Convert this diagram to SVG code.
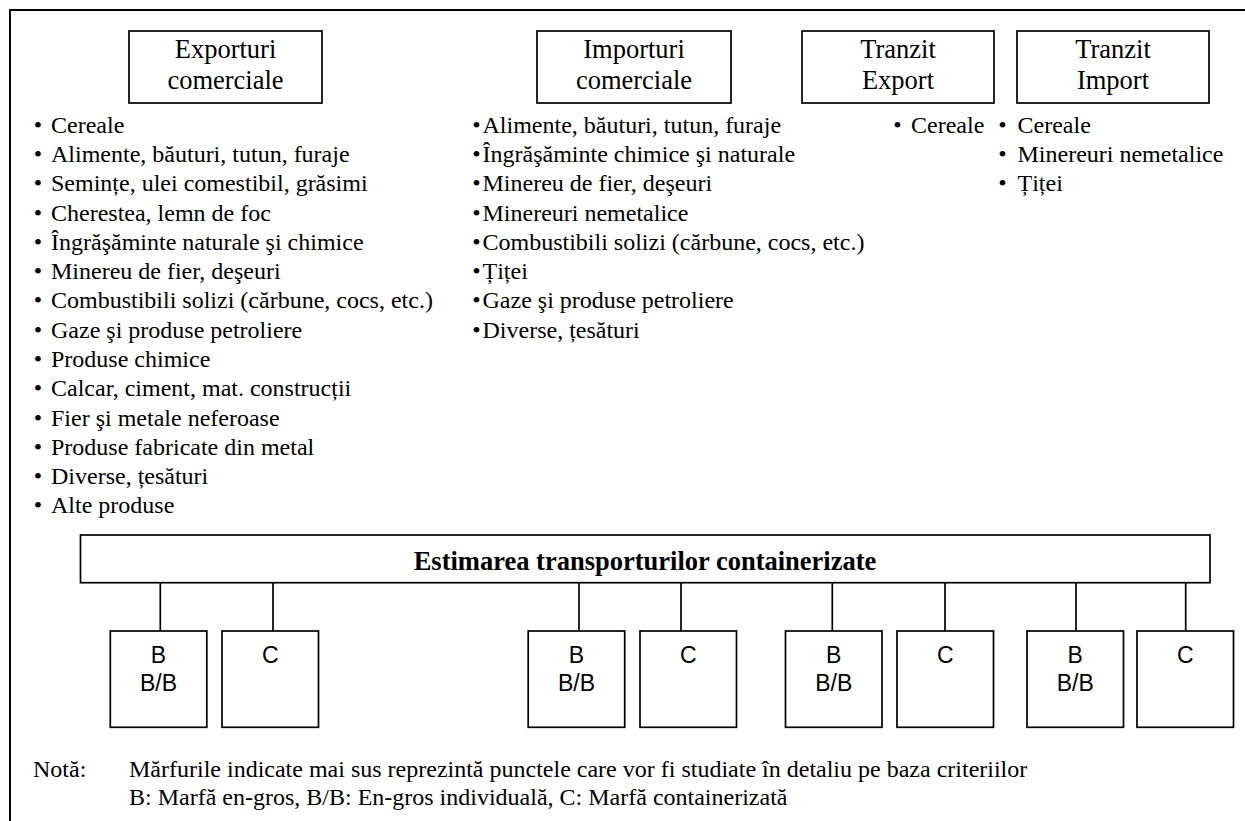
<svg xmlns="http://www.w3.org/2000/svg" width="1245" height="821" viewBox="0 0 1245 821">
<style>
.frame{fill:none;stroke:#000;stroke-width:2}
.box{fill:#fff;stroke:#000;stroke-width:1.7}
.conn{stroke:#000;stroke-width:1.7;fill:none}
.hd{font-family:"Liberation Serif","Times New Roman",serif;font-size:26.5px;text-anchor:middle;fill:#000}
.li{font-family:"Liberation Serif","Times New Roman",serif;font-size:24px;fill:#000}
.bu{font-family:"Liberation Serif","Times New Roman",serif;font-size:24px;fill:#000;text-anchor:middle}
.ti{font-family:"Liberation Serif","Times New Roman",serif;font-size:26.5px;font-weight:bold;text-anchor:middle;fill:#000}
.cat{font-family:"Liberation Sans",Arial,sans-serif;font-size:23px;text-anchor:middle;fill:#000}
</style>
<rect width="1245" height="821" fill="#fff"/>
<path class="frame" d="M10,821 V10 H1245"/>

<g id="exporturi">
<rect class="box" x="129" y="31" width="193" height="72"/>
<text class="hd" x="225.5" y="58.3">Exporturi</text>
<text class="hd" x="225.5" y="89.3">comerciale</text>
</g>
<g id="importuri">
<rect class="box" x="537" y="31" width="194" height="72"/>
<text class="hd" x="634" y="58.3">Importuri</text>
<text class="hd" x="634" y="89.3">comerciale</text>
</g>
<g id="tranzit-export">
<rect class="box" x="802" y="31" width="192" height="72"/>
<text class="hd" x="898" y="58.3">Tranzit</text>
<text class="hd" x="898" y="89.3">Export</text>
</g>
<g id="tranzit-import">
<rect class="box" x="1017" y="31" width="192" height="72"/>
<text class="hd" x="1113" y="58.3">Tranzit</text>
<text class="hd" x="1113" y="89.3">Import</text>
</g>

<g id="list-exporturi">
<text class="bu" x="38" y="132.7">•</text><text class="li" x="51" y="132.7">Cereale</text>
<text class="bu" x="38" y="162">•</text><text class="li" x="51" y="162">Alimente, băuturi, tutun, furaje</text>
<text class="bu" x="38" y="191.3">•</text><text class="li" x="51" y="191.3">Semințe, ulei comestibil, grăsimi</text>
<text class="bu" x="38" y="220.5">•</text><text class="li" x="51" y="220.5">Cherestea, lemn de foc</text>
<text class="bu" x="38" y="249.8">•</text><text class="li" x="51" y="249.8">Îngrăşăminte naturale şi chimice</text>
<text class="bu" x="38" y="279.1">•</text><text class="li" x="51" y="279.1">Minereu de fier, deşeuri</text>
<text class="bu" x="38" y="308.4">•</text><text class="li" x="51" y="308.4">Combustibili solizi (cărbune, cocs, etc.)</text>
<text class="bu" x="38" y="337.7">•</text><text class="li" x="51" y="337.7">Gaze şi produse petroliere</text>
<text class="bu" x="38" y="366.9">•</text><text class="li" x="51" y="366.9">Produse chimice</text>
<text class="bu" x="38" y="396.2">•</text><text class="li" x="51" y="396.2">Calcar, ciment, mat. construcții</text>
<text class="bu" x="38" y="425.5">•</text><text class="li" x="51" y="425.5">Fier şi metale neferoase</text>
<text class="bu" x="38" y="454.8">•</text><text class="li" x="51" y="454.8">Produse fabricate din metal</text>
<text class="bu" x="38" y="484.1">•</text><text class="li" x="51" y="484.1">Diverse, țesături</text>
<text class="bu" x="38" y="513.3">•</text><text class="li" x="51" y="513.3">Alte produse</text>
</g>

<g id="list-importuri">
<text class="bu" x="476.5" y="132.7">•</text><text class="li" x="482.5" y="132.7">Alimente, băuturi, tutun, furaje</text>
<text class="bu" x="476.5" y="162">•</text><text class="li" x="482.5" y="162">Îngrăşăminte chimice şi naturale</text>
<text class="bu" x="476.5" y="191.3">•</text><text class="li" x="482.5" y="191.3">Minereu de fier, deşeuri</text>
<text class="bu" x="476.5" y="220.5">•</text><text class="li" x="482.5" y="220.5">Minereuri nemetalice</text>
<text class="bu" x="476.5" y="249.8">•</text><text class="li" x="482.5" y="249.8">Combustibili solizi (cărbune, cocs, etc.)</text>
<text class="bu" x="476.5" y="279.1">•</text><text class="li" x="482.5" y="279.1">Țiței</text>
<text class="bu" x="476.5" y="308.4">•</text><text class="li" x="482.5" y="308.4">Gaze şi produse petroliere</text>
<text class="bu" x="476.5" y="337.7">•</text><text class="li" x="482.5" y="337.7">Diverse, țesături</text>
</g>

<g id="list-tranzit-export">
<text class="bu" x="897.5" y="132.7">•</text><text class="li" x="911" y="132.7">Cereale</text>
</g>

<g id="list-tranzit-import">
<text class="bu" x="1002.5" y="132.7">•</text><text class="li" x="1017.5" y="132.7">Cereale</text>
<text class="bu" x="1002.5" y="162">•</text><text class="li" x="1017.5" y="162">Minereuri nemetalice</text>
<text class="bu" x="1002.5" y="191.3">•</text><text class="li" x="1017.5" y="191.3">Țiței</text>
</g>

<g id="connectors">
<line class="conn" x1="160.3" y1="582.7" x2="160.3" y2="631"/>
<line class="conn" x1="273" y1="582.7" x2="273" y2="631"/>
<line class="conn" x1="579" y1="582.7" x2="579" y2="631"/>
<line class="conn" x1="681" y1="582.7" x2="681" y2="631"/>
<line class="conn" x1="832.3" y1="582.7" x2="832.3" y2="631"/>
<line class="conn" x1="945" y1="582.7" x2="945" y2="631"/>
<line class="conn" x1="1076" y1="582.7" x2="1076" y2="631"/>
<line class="conn" x1="1185.7" y1="582.7" x2="1185.7" y2="631"/>
</g>

<g id="estimarea">
<rect class="box" x="80.5" y="535" width="1129.5" height="47.7"/>
<text class="ti" x="645" y="570">Estimarea transporturilor containerizate</text>
</g>

<g id="b1"><rect class="box" x="110.3" y="631" width="96.5" height="96.3"/><text class="cat" x="158.5" y="663">B</text><text class="cat" x="158.5" y="691">B/B</text></g>
<g id="c1"><rect class="box" x="222" y="631" width="96.5" height="96.3"/><text class="cat" x="270.2" y="663">C</text></g>
<g id="b2"><rect class="box" x="528.2" y="631" width="96.5" height="96.3"/><text class="cat" x="576.5" y="663">B</text><text class="cat" x="576.5" y="691">B/B</text></g>
<g id="c2"><rect class="box" x="640" y="631" width="96.5" height="96.3"/><text class="cat" x="688.2" y="663">C</text></g>
<g id="b3"><rect class="box" x="785.5" y="631" width="96.5" height="96.3"/><text class="cat" x="833.7" y="663">B</text><text class="cat" x="833.7" y="691">B/B</text></g>
<g id="c3"><rect class="box" x="897" y="631" width="96.5" height="96.3"/><text class="cat" x="945.2" y="663">C</text></g>
<g id="b4"><rect class="box" x="1027" y="631" width="96.5" height="96.3"/><text class="cat" x="1075.2" y="663">B</text><text class="cat" x="1075.2" y="691">B/B</text></g>
<g id="c4"><rect class="box" x="1137" y="631" width="96.5" height="96.3"/><text class="cat" x="1185.2" y="663">C</text></g>

<g id="nota">
<text class="li" x="33" y="777">Notă:</text>
<text class="li" x="129" y="777">Mărfurile indicate mai sus reprezintă punctele care vor fi studiate în detaliu pe baza criteriilor</text>
<text class="li" x="129" y="805">B: Marfă en-gros, B/B: En-gros individuală, C: Marfă containerizată</text>
</g>
</svg>
